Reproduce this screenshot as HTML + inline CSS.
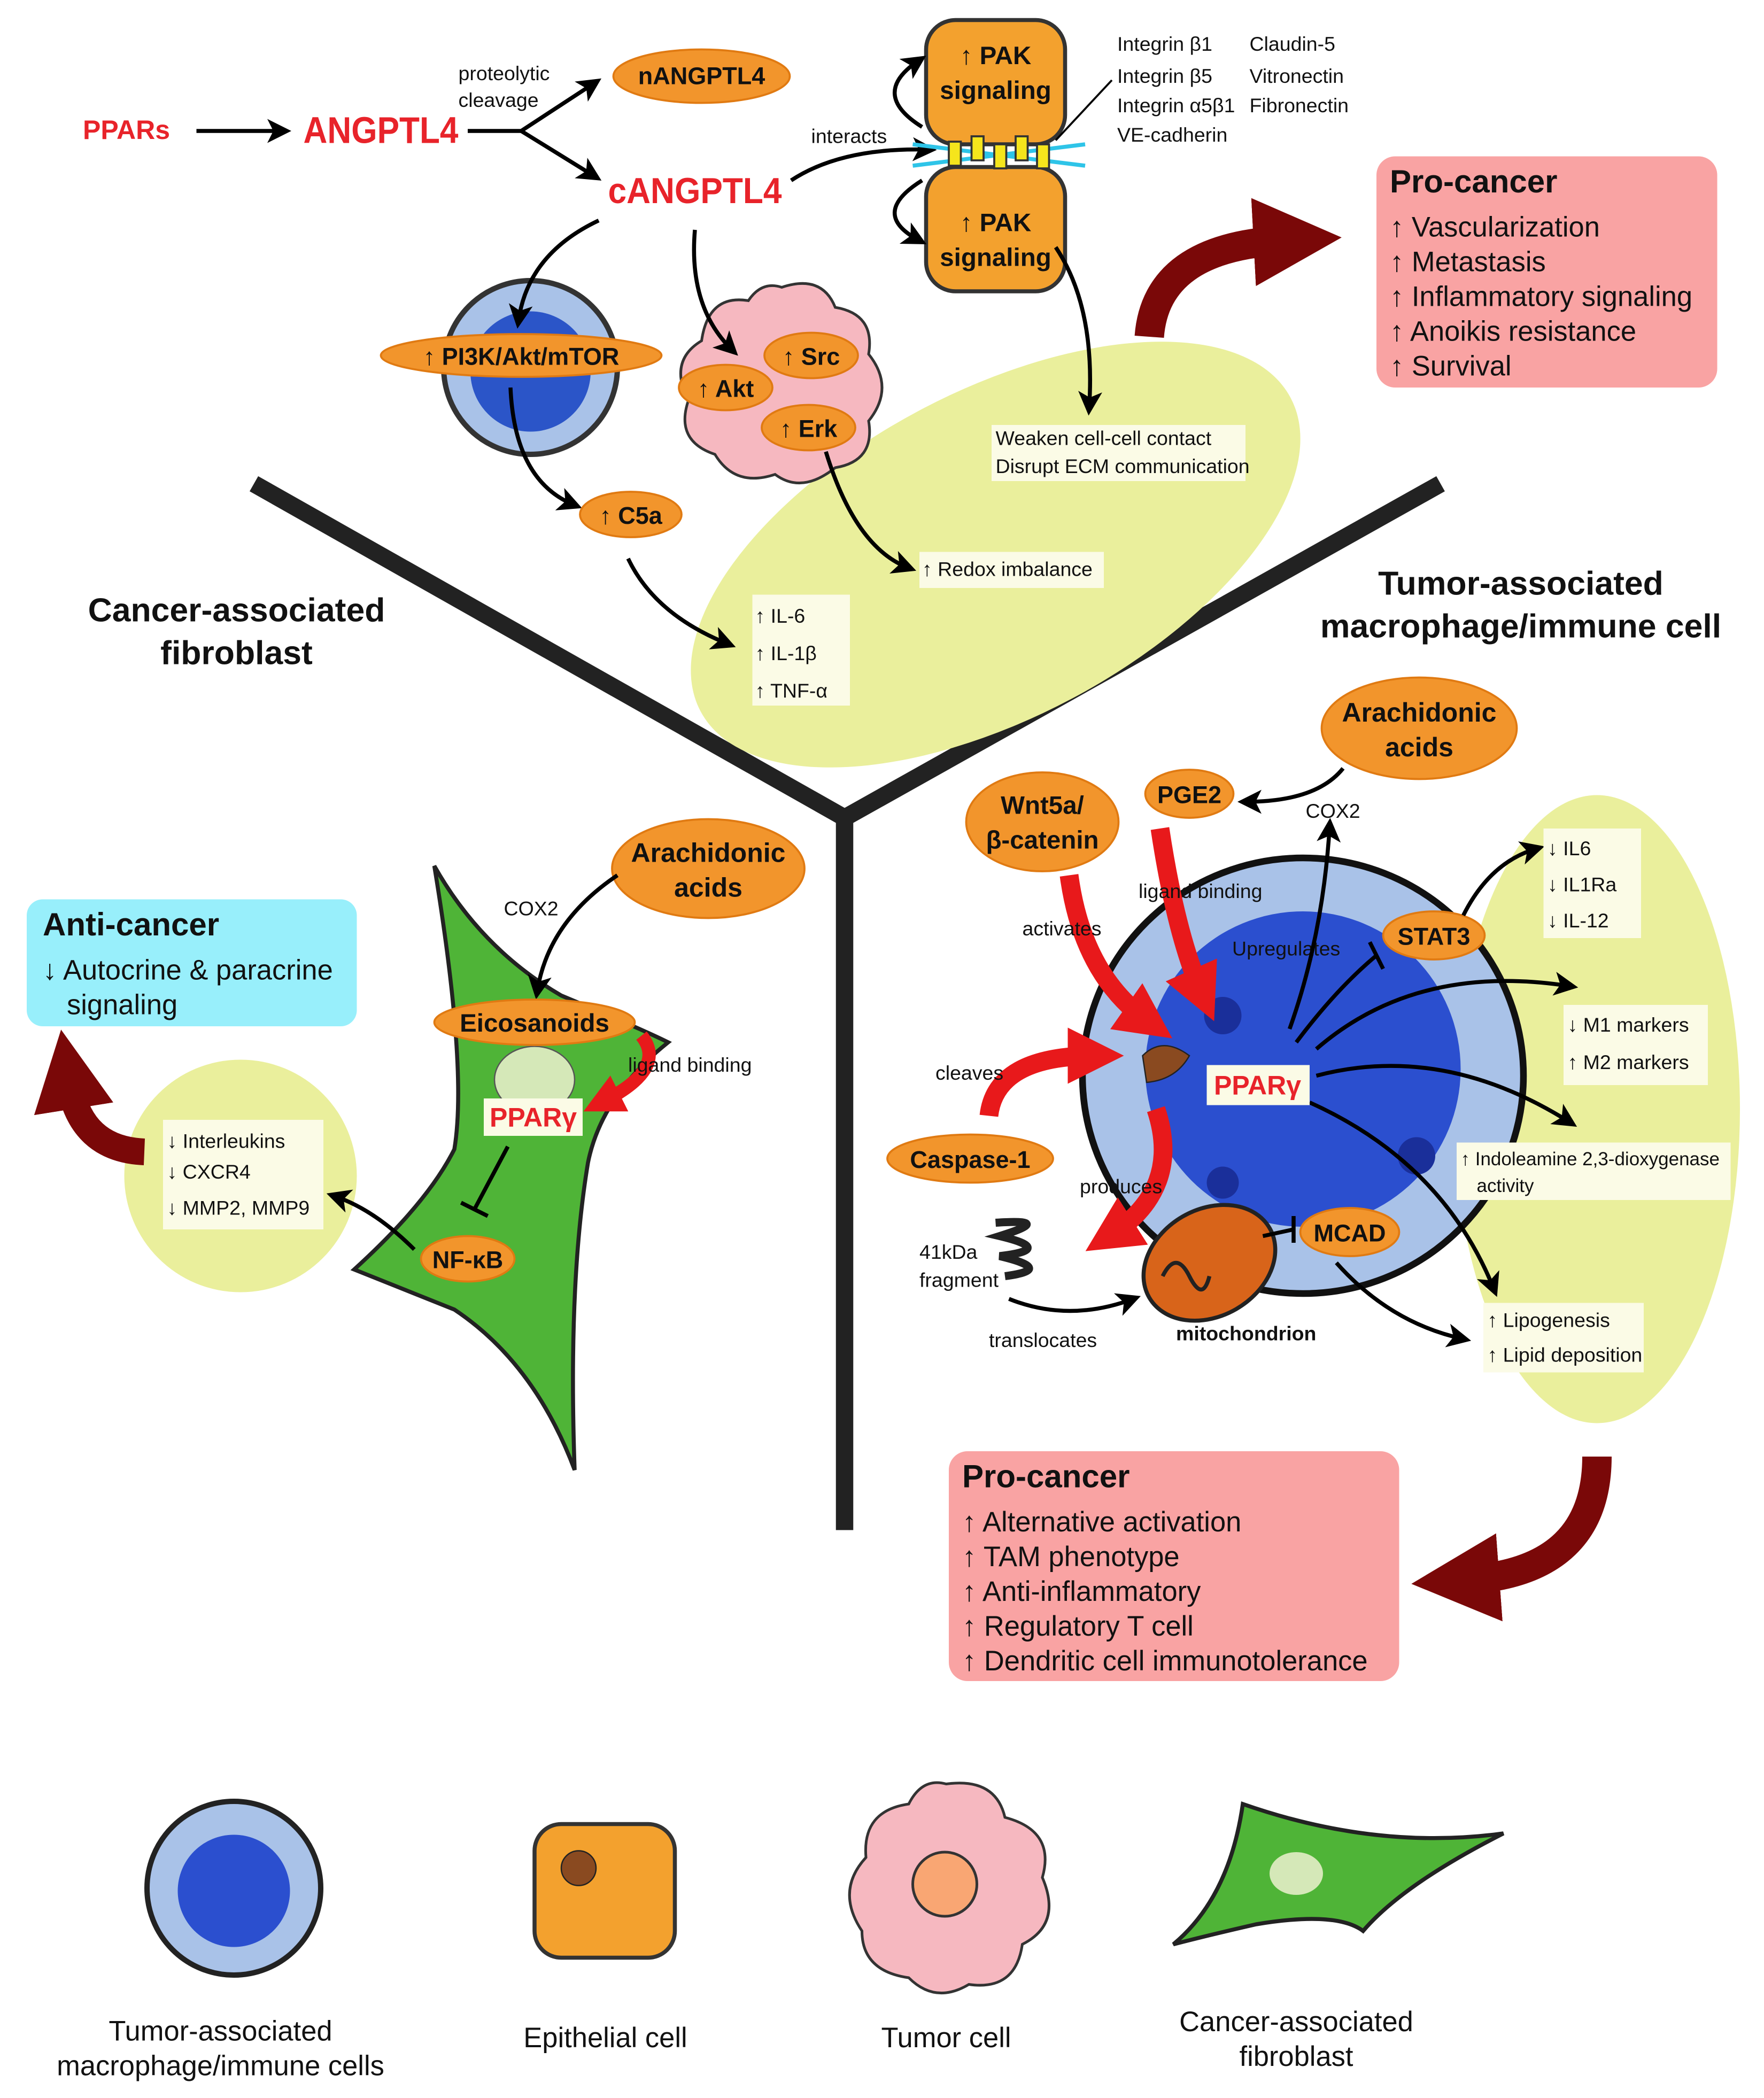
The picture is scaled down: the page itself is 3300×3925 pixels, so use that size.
<!DOCTYPE html>
<html><head><meta charset="utf-8"><style>
html,body{margin:0;padding:0;background:#fff;}
svg{display:block;font-family:"Liberation Sans",Arial,sans-serif;}
.o{fill:#f2952c;stroke:#e07a12;stroke-width:1.5}
.t{font-size:15px;fill:#111}
.b{font-weight:bold;fill:#111}
.box{fill:#fbfbe6}
.ar{fill:none;stroke:#000;stroke-width:3;marker-end:url(#ah)}
.rd{fill:none;stroke:#e8191b;stroke-width:14;marker-end:url(#rh)}
</style></head><body>
<svg width="3300" height="3925" viewBox="0 0 1320 1570" xmlns="http://www.w3.org/2000/svg">
<defs>
<marker id="ah" markerWidth="6" markerHeight="6" refX="4" refY="3" orient="auto" markerUnits="strokeWidth"><path d="M0,0 L6,3 L0,6 L1.5,3z" fill="#000"/></marker>
<marker id="rh" markerWidth="3" markerHeight="3" refX="1.5" refY="1.5" orient="auto" markerUnits="strokeWidth"><path d="M0,0 L3,1.5 L0,3z" fill="#e8191b"/></marker>
<marker id="dh" markerWidth="3" markerHeight="3" refX="1" refY="1.5" orient="auto" markerUnits="strokeWidth"><path d="M0,0 L3,1.5 L0,3z" fill="#7a0808"/></marker>
</defs>
<path d="M190,362 L632,612 L1078,362 M632,612 L632,1145" fill="none" stroke="#222" stroke-width="13"/>

<ellipse cx="745" cy="415" rx="250" ry="122" transform="rotate(-28 745 415)" fill="#eaef9c"/>
<circle cx="180" cy="880" r="87" fill="#eaef9c"/>
<ellipse cx="1195" cy="830" rx="107" ry="235" fill="#eaef9c"/>

<text x="62" y="104" font-size="20" font-weight="bold" fill="#e8232a">PPARs</text>
<path class="ar" d="M147,98 L212,98"/>
<text x="227" y="107" font-size="28" font-weight="bold" fill="#e8232a" textLength="116" lengthAdjust="spacingAndGlyphs">ANGPTL4</text>
<path d="M350,98 L390,98" stroke="#000" stroke-width="3"/>
<path class="ar" d="M390,98 L445,62"/><path class="ar" d="M390,98 L445,132"/>
<text x="343" y="60" class="t">proteolytic</text><text x="343" y="80" class="t">cleavage</text>
<ellipse cx="525" cy="57" rx="66" ry="20" class="o"/>
<text x="525" y="63" font-size="18" class="b" text-anchor="middle">nANGPTL4</text>
<text x="455" y="152" font-size="27" font-weight="bold" fill="#e8232a" textLength="130" lengthAdjust="spacingAndGlyphs">cANGPTL4</text>
<text x="607" y="107" class="t">interacts</text>
<path class="ar" d="M592,135 Q630,110 695,112"/>

<rect x="693" y="15" width="104" height="93" rx="22" fill="#f3a12e" stroke="#333" stroke-width="3"/>
<rect x="693" y="125" width="104" height="93" rx="22" fill="#f3a12e" stroke="#333" stroke-width="3"/>
<path d="M683,108 L812,124 M683,124 L812,108" stroke="#2ec4e8" stroke-width="3"/>
<g fill="#f5e51c" stroke="#333" stroke-width="1.5"><rect x="710" y="106" width="9" height="18"/><rect x="727" y="102" width="9" height="18"/><rect x="744" y="108" width="9" height="18"/><rect x="760" y="102" width="9" height="18"/><rect x="776" y="108" width="9" height="18"/></g>
<text x="745" y="48" font-size="19" class="b" text-anchor="middle">↑ PAK</text><text x="745" y="74" font-size="19" class="b" text-anchor="middle">signaling</text>
<text x="745" y="173" font-size="19" class="b" text-anchor="middle">↑ PAK</text><text x="745" y="199" font-size="19" class="b" text-anchor="middle">signaling</text>
<path class="ar" d="M690,95 Q650,70 688,45"/><path class="ar" d="M690,135 Q650,160 688,180"/>
<g class="t"><text x="836" y="38">Integrin β1</text><text x="836" y="62">Integrin β5</text><text x="836" y="84">Integrin α5β1</text><text x="836" y="106">VE-cadherin</text>
<text x="935" y="38">Claudin-5</text><text x="935" y="62">Vitronectin</text><text x="935" y="84">Fibronectin</text></g>
<path d="M832,60 L790,105" stroke="#000" stroke-width="1.5"/>
<path class="ar" d="M790,185 Q820,230 815,305"/>

<rect x="1030" y="117" width="255" height="173" rx="14" fill="#f9a3a3"/>
<text x="1040" y="144" font-size="24" class="b">Pro-cancer</text>
<g font-size="21" fill="#111"><text x="1040" y="177">↑ Vascularization</text><text x="1040" y="203">↑ Metastasis</text><text x="1040" y="229">↑ Inflammatory signaling</text><text x="1040" y="255">↑ Anoikis resistance</text><text x="1040" y="281">↑ Survival</text></g>
<path d="M860,252 Q865,185 960,180" fill="none" stroke="#7a0808" stroke-width="22" marker-end="url(#dh)"/>

<circle cx="397" cy="275" r="65" fill="#a9c2e8" stroke="#333" stroke-width="4"/>
<circle cx="397" cy="278" r="45" fill="#2b55c8"/>
<ellipse cx="390" cy="266" rx="105" ry="16" class="o"/>
<text x="390" y="273" font-size="18" class="b" text-anchor="middle">↑ PI3K/Akt/mTOR</text>
<path class="ar" d="M448,165 Q395,190 388,240"/>
<path class="ar" d="M382,290 Q385,360 430,378"/>
<ellipse cx="472" cy="385" rx="38" ry="17" class="o"/><text x="472" y="392" font-size="18" class="b" text-anchor="middle">↑ C5a</text>
<path class="ar" d="M470,418 Q490,460 545,482"/>

<path d="M585,215 Q615,205 625,230 Q655,235 650,265 Q670,290 650,315 Q655,345 625,350 Q600,370 580,355 Q550,365 535,340 Q505,330 515,300 Q500,270 525,255 Q530,220 560,225 Q570,210 585,215z" fill="#f6b8c0" stroke="#333" stroke-width="2"/>
<path class="ar" d="M520,172 Q515,230 548,262"/>
<ellipse cx="607" cy="266" rx="35" ry="17" class="o"/><text x="607" y="273" font-size="18" class="b" text-anchor="middle">↑ Src</text>
<ellipse cx="543" cy="290" rx="35" ry="17" class="o"/><text x="543" y="297" font-size="18" class="b" text-anchor="middle">↑ Akt</text>
<ellipse cx="605" cy="320" rx="35" ry="17" class="o"/><text x="605" y="327" font-size="18" class="b" text-anchor="middle">↑ Erk</text>
<path class="ar" d="M618,338 Q640,410 680,425"/>

<rect x="742" y="318" width="190" height="42" class="box"/>
<text x="745" y="333" class="t">Weaken cell-cell contact</text><text x="745" y="354" class="t">Disrupt ECM communication</text>
<rect x="688" y="413" width="138" height="27" class="box"/><text x="690" y="431" class="t">↑ Redox imbalance</text>
<rect x="563" y="445" width="73" height="83" class="box"/>
<g class="t"><text x="565" y="466">↑ IL-6</text><text x="565" y="494">↑ IL-1β</text><text x="565" y="522">↑ TNF-α</text></g>

<text x="177" y="465" font-size="25" class="b" text-anchor="middle">Cancer-associated</text>
<text x="177" y="497" font-size="25" class="b" text-anchor="middle">fibroblast</text>
<text x="1138" y="445" font-size="25" class="b" text-anchor="middle">Tumor-associated</text>
<text x="1138" y="477" font-size="25" class="b" text-anchor="middle">macrophage/immune cell</text>

<path d="M325,648 Q360,710 420,745 Q480,770 500,780 Q450,820 440,870 Q425,960 430,1100 Q400,1020 340,980 Q290,960 265,950 Q320,900 340,860 Q350,800 325,648z" fill="#4fb437" stroke="#222" stroke-width="3"/>
<ellipse cx="400" cy="808" rx="30" ry="25" fill="#d5e8b8" stroke="#555"/>
<ellipse cx="530" cy="650" rx="72" ry="37" class="o"/>
<text x="530" y="645" font-size="20" class="b" text-anchor="middle">Arachidonic</text><text x="530" y="671" font-size="20" class="b" text-anchor="middle">acids</text>
<text x="377" y="685" class="t">COX2</text>
<path class="ar" d="M462,655 Q410,690 402,742"/>
<ellipse cx="400" cy="765" rx="75" ry="17" class="o"/><text x="400" y="772" font-size="19" class="b" text-anchor="middle">Eicosanoids</text>
<path d="M480,775 Q500,800 450,825" fill="none" stroke="#e8191b" stroke-width="10" marker-end="url(#rh)"/>
<text x="470" y="802" class="t">ligand binding</text>
<rect x="362" y="822" width="74" height="28" fill="#fbfbe6"/>
<text x="399" y="843" font-size="20" font-weight="bold" fill="#e8232a" text-anchor="middle">PPARγ</text>
<path d="M380,858 L355,905 M345,900 L365,910" stroke="#000" stroke-width="3" fill="none"/>
<ellipse cx="350" cy="942" rx="35" ry="17" class="o"/><text x="350" y="949" font-size="18" class="b" text-anchor="middle">NF-κB</text>
<path class="ar" d="M310,935 Q280,905 250,895"/>
<rect x="122" y="838" width="120" height="82" class="box"/>
<g class="t"><text x="125" y="859">↓ Interleukins</text><text x="125" y="882">↓ CXCR4</text><text x="125" y="909">↓ MMP2, MMP9</text></g>
<rect x="20" y="673" width="247" height="95" rx="12" fill="#98effb"/>
<text x="32" y="700" font-size="24" class="b">Anti-cancer</text>
<text x="32" y="733" font-size="21" fill="#111">↓ Autocrine &amp; paracrine</text>
<text x="50" y="759" font-size="21" fill="#111">signaling</text>
<path d="M108,862 Q60,860 52,810" fill="none" stroke="#7a0808" stroke-width="20" marker-end="url(#dh)"/>

<ellipse cx="975" cy="805" rx="165" ry="163" fill="#a9c2e8" stroke="#111" stroke-width="5"/>
<circle cx="975" cy="800" r="118" fill="#2b4fcf"/>
<circle cx="915" cy="760" r="14" fill="#1a2f9a"/><circle cx="1060" cy="865" r="14" fill="#1a2f9a"/><circle cx="915" cy="885" r="12" fill="#1a2f9a"/>
<ellipse cx="1062" cy="545" rx="73" ry="38" class="o"/>
<text x="1062" y="540" font-size="20" class="b" text-anchor="middle">Arachidonic</text><text x="1062" y="566" font-size="20" class="b" text-anchor="middle">acids</text>
<path class="ar" d="M1005,575 Q985,600 932,600"/>
<text x="977" y="612" class="t">COX2</text>
<ellipse cx="890" cy="594" rx="33" ry="18" class="o"/><text x="890" y="601" font-size="18" class="b" text-anchor="middle">PGE2</text>
<ellipse cx="780" cy="615" rx="57" ry="37" class="o"/>
<text x="780" y="609" font-size="19" class="b" text-anchor="middle">Wnt5a/</text><text x="780" y="635" font-size="19" class="b" text-anchor="middle">β-catenin</text>
<path class="rd" d="M868,620 Q880,700 900,745"/>
<path class="rd" d="M800,655 Q810,730 860,765"/>
<text x="852" y="672" class="t" style="fill:#111">ligand binding</text>
<text x="765" y="700" class="t">activates</text>
<text x="922" y="715" class="t">Upregulates</text>
<path class="ar" d="M965,770 Q990,700 995,618"/>
<ellipse cx="1073" cy="700" rx="38" ry="18" class="o"/><text x="1073" y="707" font-size="18" class="b" text-anchor="middle">STAT3</text>
<path d="M970,780 Q1000,740 1030,715 M1025,705 L1035,725" stroke="#000" stroke-width="3" fill="none"/>
<path class="ar" d="M1095,685 Q1115,645 1150,635"/>
<path class="ar" d="M985,785 Q1060,720 1175,738"/>
<path class="ar" d="M985,805 Q1080,780 1175,840"/>
<path class="ar" d="M980,825 Q1080,870 1118,965"/>
<path class="ar" d="M1000,945 Q1040,990 1095,1002"/>
<rect x="1155" y="620" width="73" height="82" class="box"/>
<g class="t"><text x="1158" y="640">↓ IL6</text><text x="1158" y="667">↓ IL1Ra</text><text x="1158" y="694">↓ IL-12</text></g>
<rect x="1170" y="752" width="108" height="60" class="box"/>
<g class="t"><text x="1173" y="772">↓ M1 markers</text><text x="1173" y="800">↑ M2 markers</text></g>
<rect x="1090" y="855" width="205" height="43" class="box"/>
<text x="1093" y="872" font-size="14" fill="#111">↑ Indoleamine 2,3-dioxygenase</text><text x="1105" y="892" font-size="14" fill="#111">activity</text>
<rect x="1110" y="975" width="120" height="52" class="box"/>
<g class="t"><text x="1113" y="993">↑ Lipogenesis</text><text x="1113" y="1019">↑ Lipid deposition</text></g>
<rect x="903" y="797" width="77" height="30" fill="#fbfbe6"/>
<text x="941" y="819" font-size="20" font-weight="bold" fill="#e8232a" text-anchor="middle">PPARγ</text>
<path d="M855,790 Q870,775 890,790 Q880,808 858,810z" fill="#8a4a20" stroke="#222"/>
<path class="rd" d="M740,835 Q745,790 820,790"/>
<text x="700" y="808" class="t">cleaves</text>
<path class="rd" d="M865,830 Q885,890 830,925"/>
<text x="808" y="893" class="t">produces</text>
<ellipse cx="726" cy="867" rx="62" ry="18" class="o"/><text x="726" y="874" font-size="18" class="b" text-anchor="middle">Caspase-1</text>
<path d="M745,915 Q790,912 748,925 Q790,935 748,940 Q790,950 752,955" fill="none" stroke="#222" stroke-width="6"/>
<text x="688" y="942" class="t">41kDa</text><text x="688" y="963" class="t">fragment</text>
<path class="ar" d="M755,972 Q800,990 848,972"/>
<text x="740" y="1008" class="t">translocates</text>
<ellipse cx="905" cy="945" rx="52" ry="40" transform="rotate(-30 905 945)" fill="#d8641a" stroke="#222" stroke-width="3"/>
<path d="M870,955 Q880,935 890,955 Q900,975 905,955" fill="none" stroke="#222" stroke-width="3"/>
<text x="880" y="1003" font-size="15" class="b">mitochondrion</text>
<path d="M945,925 L968,920 M968,910 L968,930" stroke="#000" stroke-width="3"/>
<ellipse cx="1010" cy="922" rx="37" ry="18" class="o"/><text x="1010" y="929" font-size="18" class="b" text-anchor="middle">MCAD</text>

<rect x="710" y="1086" width="337" height="172" rx="14" fill="#f9a3a3"/>
<text x="720" y="1113" font-size="24" class="b">Pro-cancer</text>
<g font-size="21" fill="#111"><text x="720" y="1146">↑ Alternative activation</text><text x="720" y="1172">↑ TAM phenotype</text><text x="720" y="1198">↑ Anti-inflammatory</text><text x="720" y="1224">↑ Regulatory T cell</text><text x="720" y="1250">↑ Dendritic cell immunotolerance</text></g>
<path d="M1195,1090 Q1195,1175 1100,1182" fill="none" stroke="#7a0808" stroke-width="22" marker-end="url(#dh)"/>

<circle cx="175" cy="1413" r="65" fill="#a9c2e8" stroke="#222" stroke-width="4"/>
<circle cx="175" cy="1415" r="42" fill="#2b4fcf"/>
<rect x="400" y="1365" width="105" height="100" rx="20" fill="#f3a12e" stroke="#333" stroke-width="3"/>
<circle cx="433" cy="1398" r="13" fill="#8a4a20" stroke="#222"/>
<path d="M708,1335 Q745,1330 752,1360 Q790,1370 780,1405 Q795,1440 765,1455 Q760,1490 725,1485 Q700,1500 680,1480 Q645,1475 645,1445 Q625,1415 648,1390 Q645,1355 680,1350 Q690,1330 708,1335z" fill="#f6b8c0" stroke="#333" stroke-width="2"/>
<circle cx="707" cy="1410" r="24" fill="#f9a673" stroke="#333" stroke-width="2"/>
<path d="M878,1455 Q920,1420 930,1350 Q1030,1385 1125,1372 Q1050,1410 1020,1445 Q1000,1430 940,1440 Q905,1448 878,1455z" fill="#4fb437" stroke="#222" stroke-width="3"/>
<ellipse cx="970" cy="1402" rx="20" ry="16" fill="#d5e8b8"/>
<g font-size="21" fill="#111" text-anchor="middle">
<text x="165" y="1527">Tumor-associated</text><text x="165" y="1553">macrophage/immune cells</text>
<text x="453" y="1532">Epithelial cell</text><text x="708" y="1532">Tumor cell</text>
<text x="970" y="1520">Cancer-associated</text><text x="970" y="1546">fibroblast</text></g>
</svg>
</body></html>
